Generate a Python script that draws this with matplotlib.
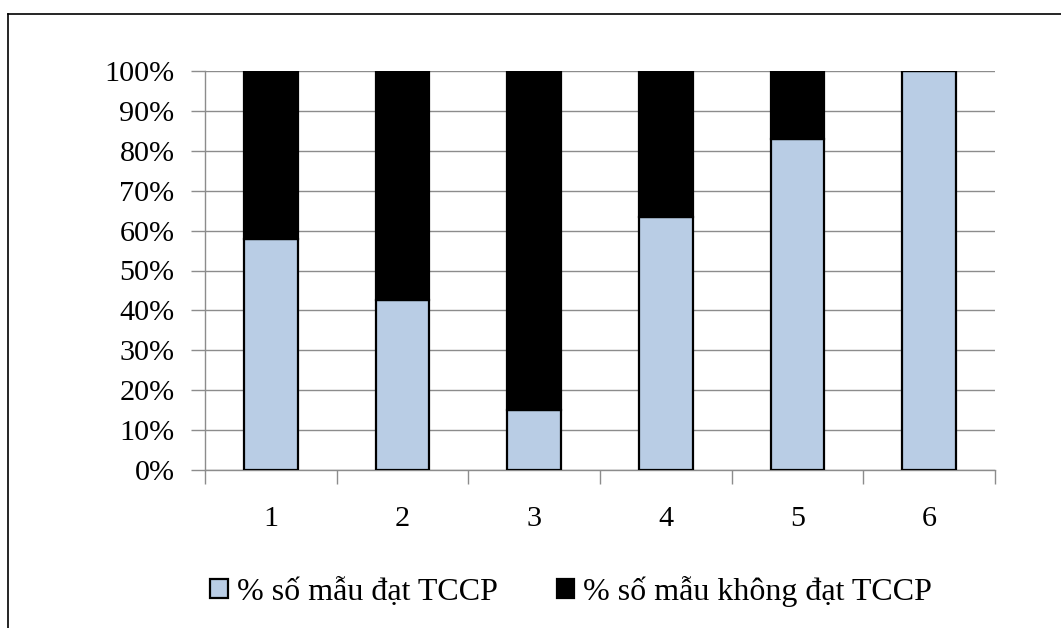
import numpy as np
import matplotlib.pyplot as plt
from matplotlib.lines import Line2D

plt.rcParams['font.family'] = ['Liberation Serif', 'DejaVu Serif']

# Data
categories = ['1', '2', '3', '4', '5', '6']
pct_pass = [58, 42.6, 15, 63.3, 83, 100]
pct_fail = [100 - v for v in pct_pass]
labels = ['% số mẫu đạt TCCP', '% số mẫu không đạt TCCP']

blue = '#B9CDE5'
grid_gray = '#8C8C8C'

fig = plt.figure(figsize=(10.61, 6.28), dpi=100)
ax = fig.add_axes([205 / 1061, 1 - 470 / 628, 790 / 1061, 399 / 628])

x = np.arange(len(categories))
w = 0.41
ax.bar(x, pct_pass, w, color=blue, edgecolor='black', linewidth=1.6,
       label=labels[0], zorder=3)
ax.bar(x, pct_fail, w, bottom=pct_pass, color='black', edgecolor='black',
       linewidth=1.6, label=labels[1], zorder=3)

ax.set_xlim(-0.5, len(categories) - 0.5)
ax.set_ylim(0, 100)
ax.set_yticks(np.arange(0, 101, 10))
ax.set_yticklabels([f'{v}%' for v in range(0, 101, 10)])
ax.yaxis.grid(True, color=grid_gray, linewidth=1)
ax.set_axisbelow(True)

ax.set_xticks(x)
ax.set_xticklabels(categories)
ax.set_xticks(np.arange(-0.5, len(categories)), minor=True)
ax.tick_params(axis='x', which='major', length=0, pad=26, labelsize=21.7)
ax.tick_params(axis='x', which='minor', length=10, color=grid_gray, width=1)
ax.tick_params(axis='y', length=10, color=grid_gray, width=1, labelsize=21.7, pad=12)

for side in ['top', 'right']:
    ax.spines[side].set_visible(False)
for side in ['left', 'bottom']:
    ax.spines[side].set_color(grid_gray)
    ax.spines[side].set_linewidth(1)

fig.legend(loc='center', bbox_to_anchor=(571 / 1061, 1 - 591 / 628), ncol=2,
           frameon=False, fontsize=23, handlelength=0.55, handleheight=0.55,
           handletextpad=0.28, columnspacing=1.85)

# outer frame (cropped at right and bottom)
fig.add_artist(Line2D([8 / 1061, 1], [1 - 14 / 628, 1 - 14 / 628],
                      color='black', linewidth=1.2, transform=fig.transFigure))
fig.add_artist(Line2D([8 / 1061, 8 / 1061], [0, 1 - 14 / 628],
                      color='black', linewidth=1.2, transform=fig.transFigure))

fig.savefig('out.png', dpi=100)
